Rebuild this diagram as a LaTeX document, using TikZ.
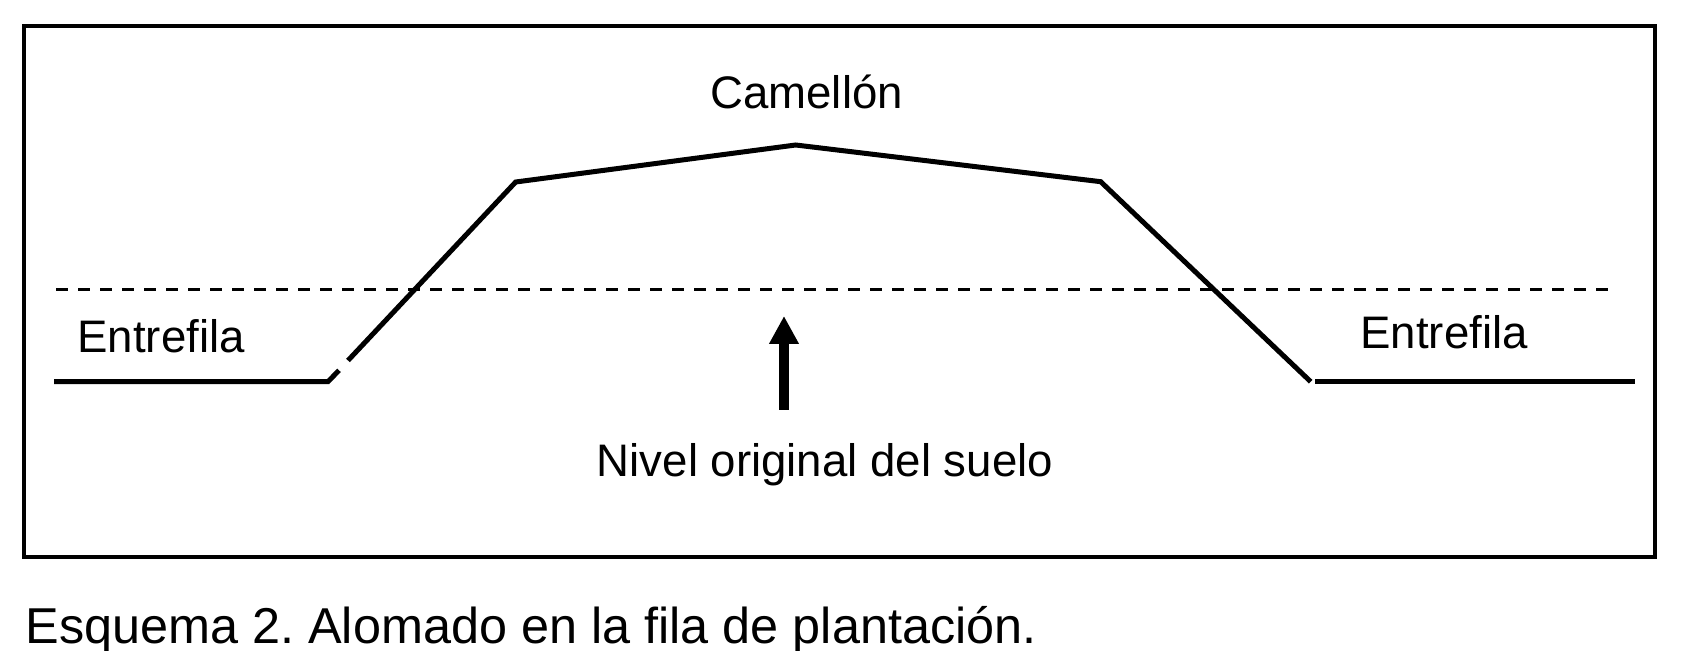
\documentclass[tikz,border=0pt]{standalone}
\usepackage{fontspec}
\setmainfont{Liberation Sans}
\usetikzlibrary{arrows.meta}
\frenchspacing
\begin{document}
\begin{tikzpicture}[x=0.5pt,y=-0.5pt,
  frame/.style={line width=2pt},
  profile/.style={line width=2.5pt,line join=miter},
  level/.style={line width=1.6pt,dash pattern=on 6pt off 5pt},
  lbl/.style={inner sep=0pt,font=\fontsize{22.8}{27}\selectfont},
  captiontext/.style={inner sep=0pt,anchor=base west,font=\fontsize{25.2}{30}\selectfont},
  uparrow/.style={line width=5pt,-{Triangle[length=14pt,width=14pt]}}]
\useasboundingbox (0,0) rectangle (1691,651);
\draw[frame] (24,26) rectangle (1655,557);
% coordinates of the profile
\coordinate (g1) at (54,381.7);
\coordinate (g2) at (328,381.7);
\coordinate (s1) at (339,370.3);
\coordinate (s2) at (348,360.5);
\coordinate (sh1) at (515.7,182);
\coordinate (pk) at (795.7,145);
\coordinate (sh2) at (1100.7,181.7);
\coordinate (b2) at (1310.7,381.7);
\coordinate (g3) at (1315,381.7);
\coordinate (g4) at (1635,381.7);
\coordinate (d1) at (56,289.5);
\coordinate (d2) at (1612,289.5);
\coordinate (a1) at (784,410);
\coordinate (a2) at (784,316);
% dashed original level
\draw[level] (d1) -- (d2);
% profile
\draw[profile] (g1) -- (g2) -- (s1);
\draw[profile] (s2) -- (sh1) -- (pk) -- (sh2) -- (b2);
\draw[profile] (g3) -- (g4);
% arrow
\draw[uparrow] (a1) -- (a2);
% labels
\node[lbl,anchor=base] (camellon) at (806.6,109) {Camellón};
\node[lbl,anchor=base west] (entL) at (77,352.5) {Entrefila};
\node[lbl,anchor=base] (entR) at (1444,348.5) {Entrefila};
\node[lbl,anchor=base] (nivel) at (825,477) {Nivel original del suelo};
\node[captiontext] (caption) at (25,643.5) {Esquema 2. Alomado en la fila de plantación.};
\end{tikzpicture}
\end{document}
